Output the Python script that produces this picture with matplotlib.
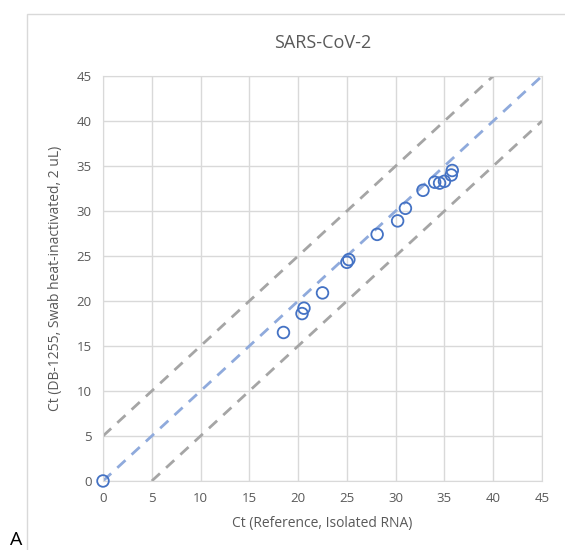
import matplotlib
matplotlib.use('Agg')
import matplotlib.pyplot as plt
from matplotlib.patches import Rectangle

plt.rcParams['font.family'] = ['Open Sans', 'DejaVu Sans']

# Ct values: reference (isolated RNA) vs swab heat-inactivated
ct_ref = [0, 18.5, 20.4, 20.6, 22.5, 25.0, 25.2, 28.1, 30.2, 31.0, 32.8, 34.0, 34.5, 35.0, 35.7, 35.8]
ct_swab = [0, 16.5, 18.6, 19.2, 20.9, 24.3, 24.6, 27.4, 28.9, 30.3, 32.3, 33.2, 33.1, 33.3, 34.0, 34.5]

# reference lines
ident_x = [0, 45]
ident_y = [0, 45]
upper_x = [0, 40]
upper_y = [5, 45]
lower_x = [5, 45]
lower_y = [0, 40]

ticks = list(range(0, 50, 5))

fig = plt.figure(figsize=(5.65, 5.5), dpi=100)
ax = fig.add_axes([0.1823, 0.1255, 0.7770, 0.7363])

# chart frame
fig.patches.append(Rectangle((27 / 565, -0.01), 1.0, 1 - 14 / 550 + 0.01, transform=fig.transFigure,
                             fill=False, edgecolor='#d9d9d9', linewidth=1))

ax.plot(upper_x, upper_y, ls=(0, (4, 3)), color='#a5a5a5', lw=2)
ax.plot(lower_x, lower_y, ls=(0, (4, 3)), color='#a5a5a5', lw=2)
ax.plot(ident_x, ident_y, ls=(0, (4, 3)), color='#8faadc', lw=2)
ax.scatter(ct_ref, ct_swab, s=70, facecolors='none', edgecolors='#4472c4', linewidths=1.3,
           zorder=3, clip_on=False)

ax.set_xlim(0, 45)
ax.set_ylim(0, 45)
ax.set_xticks(ticks)
ax.set_yticks(ticks)
ax.grid(True, color='#d9d9d9', lw=1)
ax.set_axisbelow(True)
for s in ax.spines.values():
    s.set_color('#d9d9d9')
ax.tick_params(length=0, labelsize=9.5, colors='#595959', pad=8)

ax.set_title('SARS-CoV-2', fontsize=13, color='#595959', pad=20)
ax.set_xlabel('Ct (Reference, Isolated RNA)', fontsize=10, color='#595959', labelpad=8)
ax.set_ylabel('Ct (DB-1255, Swab heat-inactivated, 2 uL)', fontsize=10, color='#595959', labelpad=10)

fig.text(10 / 565, 0.002, 'A', fontsize=14, color='black', va='bottom')

fig.savefig('out.png', dpi=100)
